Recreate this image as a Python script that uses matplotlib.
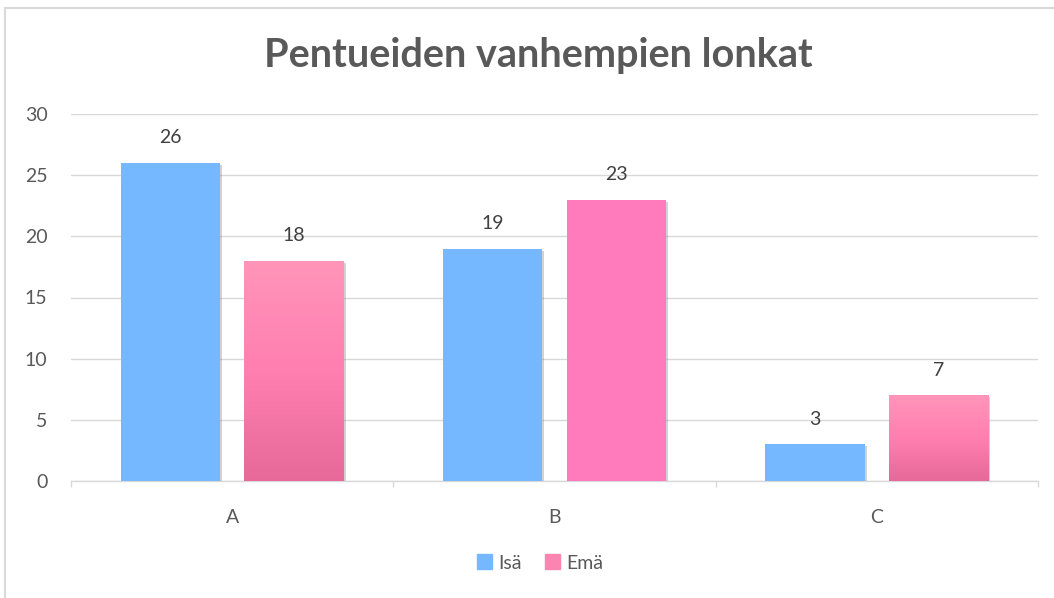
import numpy as np
import matplotlib.pyplot as plt
import matplotlib.patheffects as pe
from matplotlib.lines import Line2D
from matplotlib.colors import LinearSegmentedColormap

categories = ["A", "B", "C"]
isa = [26, 19, 3]
ema = [18, 23, 7]
series_names = ["Isä", "Emä"]

plt.rcParams['font.family'] = ['Lato', 'DejaVu Sans']

fig = plt.figure(figsize=(10.54, 5.98), dpi=100)
ax = fig.add_axes([71 / 1054, 1 - 481 / 598, (1038 - 71) / 1054, (481 - 114) / 598])

x = np.arange(len(categories))
w = 0.308
off = 0.192
shadow = [pe.SimplePatchShadow(offset=(1.5, -1.5), shadow_rgbFace='#808080', alpha=0.35), pe.Normal()]

bars1 = ax.bar(x - off, isa, w, color='#75B8FF', zorder=3, path_effects=shadow)
bars2 = ax.bar(x + off, ema, w, color='#FF7BBB', zorder=3, path_effects=shadow)

# gradient fill for the pink bars A and C
pink = LinearSegmentedColormap.from_list('pink', ['#E6699A', '#FF7FB0', '#FF95B9'])
grad = np.linspace(0, 1, 256).reshape(-1, 1)
for i, b in enumerate(bars2):
    if i == 1:
        continue
    x0, y0 = b.get_x(), b.get_y()
    im = ax.imshow(grad, cmap=pink, aspect='auto', origin='lower',
                   extent=[x0, x0 + b.get_width(), y0, y0 + b.get_height()], zorder=4)
    im.set_clip_path(b)

for b in list(bars1) + list(bars2):
    ax.annotate(str(int(b.get_height())), (b.get_x() + b.get_width() / 2, b.get_height()),
                xytext=(0, 18), textcoords='offset points', ha='center', va='center',
                fontsize=14, color='#404040', zorder=5)

ax.set_xlim(-0.5, 2.5)
ax.set_ylim(0, 30)
ax.set_yticks(range(0, 31, 5))
ax.set_xticks(x)
ax.set_xticklabels(categories)
ax.set_xticks([-0.5, 0.5, 1.5, 2.5], minor=True)
ax.tick_params(axis='x', which='major', length=0, pad=20, labelsize=14, labelcolor='#595959')
ax.tick_params(axis='x', which='minor', length=4, color='#D9D9D9', width=1)
ax.tick_params(axis='y', length=0, pad=17, labelsize=14, labelcolor='#595959')
ax.grid(axis='y', color='#D9D9D9', linewidth=1, zorder=0)
ax.set_axisbelow(True)
for s in ['top', 'right', 'left']:
    ax.spines[s].set_visible(False)
ax.spines['bottom'].set_color('#D9D9D9')
ax.spines['bottom'].set_linewidth(1)

fig.text(538 / 1054, 1 - 56 / 598, "Pentueiden vanhempien lonkat", ha='center', va='center',
         fontsize=28.5, fontweight='bold', color='#595959')

# chart frame
fig.add_artist(Line2D([5 / 1054, 5 / 1054], [0, 1 - 8 / 598], color='#D9D9D9', lw=1.5))
fig.add_artist(Line2D([5 / 1054, 1], [1 - 8 / 598, 1 - 8 / 598], color='#D9D9D9', lw=1.5))

handles = [plt.Rectangle((0, 0), 1, 1, color='#75B8FF'), plt.Rectangle((0, 0), 1, 1, color='#F985B0')]
fig.legend(handles, series_names, loc='center', bbox_to_anchor=(540 / 1054, 1 - 563 / 598),
           ncol=2, frameon=False, handlelength=0.8, handleheight=0.8, handletextpad=0.3,
           columnspacing=1.2, fontsize=14, labelcolor='#595959')

fig.savefig('out.png', dpi=100)
